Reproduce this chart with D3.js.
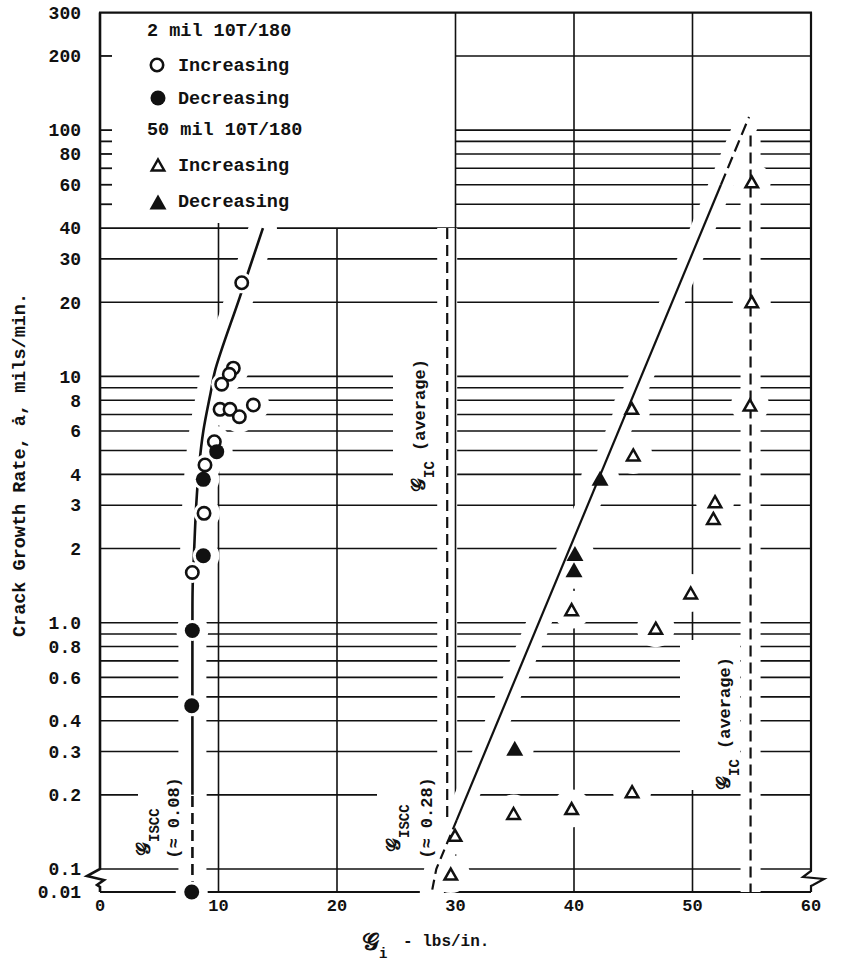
<!DOCTYPE html>
<html>
<head>
<meta charset="utf-8">
<script src="https://cdn.jsdelivr.net/npm/d3@7/dist/d3.min.js"></script>
<style>
  html, body { margin: 0; padding: 0; background: #fff; }
  svg { display: block; }
  text { font-family: "Liberation Mono", "Courier New", monospace; font-weight: bold; fill: #111; }
</style>
</head>
<body>
<svg id="chart" width="853" height="961"></svg>
<script>
// ---------------- data ----------------
const xTickValues = [0, 10, 20, 30, 40, 50, 60];
const yTickValues = [300, 200, 100, 80, 60, 40, 30, 20, 10, 8, 6, 4, 3, 2, 1, 0.8, 0.6, 0.4, 0.3, 0.2, 0.1, 0.01];
const yTickLabels = ["300", "200", "100", "80", "60", "40", "30", "20", "10", "8", "6", "4", "3", "2", "1.0", "0.8", "0.6", "0.4", "0.3", "0.2", "0.1", "0.01"];
// log grid: upper decade only right of x = 30 (legend area kept clear)
const gridUpper = [200, 100, 90, 80, 70, 60, 50];
const gridLower = [40, 30, 20, 10, 9, 8, 7, 6, 5, 4, 3, 2, 1, 0.9, 0.8, 0.7, 0.6, 0.5, 0.4, 0.3, 0.2, 0.1];
// vertical grid: [x, top value]
const gridVertical = [[10, 42], [20, 40], [30, 300], [40, 300], [50, 300]];

// 2 mil 10T/180  [G_i (lbs/in.), crack growth rate (mils/min.)]
const thinIncreasing = [[11.96, 24.0], [11.25, 10.8], [10.91, 10.2], [10.27, 9.3], [10.13, 7.35], [10.97, 7.35],
  [11.76, 6.86], [12.94, 7.65], [9.65, 5.43], [8.86, 4.37], [8.78, 2.78], [7.79, 1.6]];
const thinDecreasing = [[9.85, 4.95], [8.72, 3.82], [8.72, 1.87], [7.79, 0.93], [7.74, 0.46], [7.74, 0.01]];

// 50 mil 10T/180
const thickIncreasing = [[55.0, 61.7], [55.0, 20.1], [44.87, 7.42], [54.85, 7.65], [45.0, 4.8], [51.9, 3.1],
  [51.76, 2.65], [39.8, 1.13], [49.85, 1.32], [46.9, 0.95], [44.9, 0.206], [34.9, 0.168], [39.8, 0.176],
  [29.96, 0.137], [29.6, 0.06]];
const thickDecreasing = [[42.2, 3.86], [40.08, 1.91], [40.0, 1.64], [35.0, 0.309]];

// trend curve through the 2 mil results and its threshold leg
const thinTrend = [[7.8, 0.2], [7.8, 1.0], [7.82, 1.4], [7.95, 2.0], [8.12, 3.0], [8.38, 4.4], [8.72, 6.0],
  [9.34, 8.6], [9.72, 10.6], [11.8, 21], [13.75, 40]];
const thinThreshold = [[7.8, 0.01], [7.8, 0.2]];

// straight-line fit of the 50 mil results, with dashed extrapolations
const thickTrend = [[30.1, 0.158], [52.4, 60]];
const thickTrendUpper = [[52.4, 60], [54.77, 113]];
const thickTrendLower = [[30.1, 0.158], [28.38, 0.1], [28.0, 0.01]];

// average G_IC levels
const gicLines = [{x: 29.3, top: 40, bottom: 0.16}, {x: 54.9, top: 95, bottom: 0.01}];

// ---------------- scales ----------------
const W = 853, H = 961;
const x = d3.scaleLinear().domain([0, 60]).range([100, 811]);
// log axis with a broken segment between 0.1 and 0.01
const y = d3.scaleLog().domain([0.01, 0.1, 300]).range([892, 869, 12.6]);

const svg = d3.select("#chart");
const ink = "#111";

const straight = d3.line().x(d => x(d[0])).y(d => y(d[1]));
const smooth = d3.line().x(d => x(d[0])).y(d => y(d[1])).curve(d3.curveCatmullRom.alpha(0.5));

const triPath = (w, h) => `M0,${-h / 2}L${w / 2},${h / 2}L${-w / 2},${h / 2}Z`;

// areas kept clear of grid lines behind the rotated annotations [x0, y0, x1, y1]
const labelClear = [[138, 775, 186, 862], [377, 775, 440, 862], [393, 340, 440, 495], [680, 640, 740, 790]];

// ---------------- knock-out masks for the grid ----------------
const defs = svg.append("defs");
function makeMask(id, includeGic) {
  const m = defs.append("mask").attr("id", id).attr("maskUnits", "userSpaceOnUse")
    .attr("x", 0).attr("y", 0).attr("width", W).attr("height", H);
  m.append("rect").attr("width", W).attr("height", H).attr("fill", "#fff");
  const k = m.append("g").attr("fill", "none").attr("stroke", "#000")
    .attr("stroke-linecap", "round").attr("stroke-linejoin", "round");
  k.append("path").attr("d", smooth(thinTrend)).attr("stroke-width", 28);
  k.append("path").attr("d", straight(thinThreshold)).attr("stroke-width", 28);
  k.append("path").attr("d", straight(thickTrendLower)).attr("stroke-width", 24);
  k.append("path").attr("d", straight(thickTrend)).attr("stroke-width", 24);
  k.append("path").attr("d", straight(thickTrendUpper)).attr("stroke-width", 24);
  if (includeGic) {
    gicLines.forEach(g => k.append("line")
      .attr("x1", x(g.x)).attr("x2", x(g.x)).attr("y1", y(g.top)).attr("y2", y(g.bottom))
      .attr("stroke-width", 20).attr("stroke-linecap", "butt"));
  }
  const dots = m.append("g").attr("fill", "#000");
  thinIncreasing.concat(thinDecreasing).forEach(d =>
    dots.append("circle").attr("cx", x(d[0])).attr("cy", y(d[1])).attr("r", 16));
  thickIncreasing.concat(thickDecreasing).forEach(d =>
    dots.append("circle").attr("cx", x(d[0])).attr("cy", y(d[1])).attr("r", 19));
  labelClear.forEach(b => dots.append("rect")
    .attr("x", b[0]).attr("y", b[1]).attr("width", b[2] - b[0]).attr("height", b[3] - b[1]));
}
makeMask("hmask", true);
makeMask("vmask", false);

// ---------------- grid ----------------
const hGrid = svg.append("g").attr("mask", "url(#hmask)").attr("stroke", ink).attr("stroke-width", 1.6);
gridUpper.forEach(v => hGrid.append("line")
  .attr("x1", x(30)).attr("x2", x(60)).attr("y1", y(v)).attr("y2", y(v)));
gridLower.forEach(v => hGrid.append("line")
  .attr("x1", x(0)).attr("x2", x(60)).attr("y1", y(v)).attr("y2", y(v)));
// bottom axis (0.01 level)
hGrid.append("line").attr("x1", x(0)).attr("x2", x(60)).attr("y1", y(0.01)).attr("y2", y(0.01))
  .attr("stroke-width", 2.2);

const vGrid = svg.append("g").attr("mask", "url(#vmask)").attr("stroke", ink).attr("stroke-width", 1.6);
gridVertical.forEach(([v, top]) => vGrid.append("line")
  .attr("x1", x(v)).attr("x2", x(v)).attr("y1", y(top)).attr("y2", y(0.01)));

// ---------------- frame with axis breaks ----------------
const frame = svg.append("g").attr("fill", "none").attr("stroke", ink).attr("stroke-linejoin", "miter");
const x0 = x(0), x1 = x(60), yTop = y(300), yB = y(0.1), yBot = y(0.01);
frame.append("path").attr("stroke-width", 2.6)
  .attr("d", `M${x0},${yTop}L${x0},${yB}L${x0 - 13},${yB + 7}L${x0 + 4},${yB + 11}L${x0 - 3},${yB + 16}L${x0},${yB + 18}L${x0},${yBot}`);
frame.append("line").attr("stroke-width", 2.2).attr("x1", x0 - 1).attr("x2", x1 + 1).attr("y1", yTop).attr("y2", yTop);
frame.append("path").attr("stroke-width", 2.2)
  .attr("d", `M${x1},${yTop}L${x1},${yB + 2}L${x1 - 8},${yB + 8}L${x1 + 13},${yB + 10}L${x1 + 2},${yB + 16}L${x1},${yB + 17}L${x1},${yBot}`);
// short ticks in the legend zone
gridUpper.forEach(v => frame.append("line").attr("stroke-width", 1.8)
  .attr("x1", x0).attr("x2", x0 + 12).attr("y1", y(v)).attr("y2", y(v)));

// ---------------- trend lines ----------------
const lines = svg.append("g").attr("fill", "none").attr("stroke", ink);
lines.append("path").attr("d", smooth(thinTrend)).attr("stroke-width", 2.6);
lines.append("path").attr("d", straight(thinThreshold)).attr("stroke-width", 2.6).attr("stroke-dasharray", "11,6");
lines.append("path").attr("d", straight(thickTrend)).attr("stroke-width", 2.2);
lines.append("path").attr("d", straight(thickTrendUpper)).attr("stroke-width", 2.2).attr("stroke-dasharray", "12,6");
lines.append("path").attr("d", straight(thickTrendLower)).attr("stroke-width", 2.2).attr("stroke-dasharray", "10,6");
gicLines.forEach(g => lines.append("line")
  .attr("x1", x(g.x)).attr("x2", x(g.x)).attr("y1", y(g.top)).attr("y2", y(g.bottom))
  .attr("stroke-width", 2.2).attr("stroke-dasharray", "11,6"));

// ---------------- points ----------------
const pts = svg.append("g");
// white collars so the trend curve breaks around the circles
thinIncreasing.concat(thinDecreasing).forEach(d =>
  pts.append("circle").attr("cx", x(d[0])).attr("cy", y(d[1])).attr("r", 10.5).attr("fill", "#fff"));
thinIncreasing.forEach(d => pts.append("circle").attr("cx", x(d[0])).attr("cy", y(d[1])).attr("r", 6.2)
  .attr("fill", "#fff").attr("stroke", ink).attr("stroke-width", 2.6));
thinDecreasing.forEach(d => pts.append("circle").attr("cx", x(d[0])).attr("cy", y(d[1])).attr("r", 7.5)
  .attr("fill", ink));
thickIncreasing.forEach(d => pts.append("path").attr("d", triPath(12.5, 11))
  .attr("transform", `translate(${x(d[0])},${y(d[1])})`)
  .attr("fill", "#fff").attr("stroke", ink).attr("stroke-width", 2.5).attr("stroke-linejoin", "miter"));
thickDecreasing.forEach(d => pts.append("path").attr("d", triPath(17, 15))
  .attr("transform", `translate(${x(d[0])},${y(d[1])})`).attr("fill", ink));

// ---------------- legend ----------------
const lg = svg.append("g");
const legendText = (tx, ty, s) => lg.append("text").attr("x", tx).attr("y", ty).attr("font-size", 18.5).text(s);
legendText(147, 36, "2 mil 10T/180");
lg.append("circle").attr("cx", 157).attr("cy", 65).attr("r", 6.2).attr("fill", "#fff").attr("stroke", ink).attr("stroke-width", 2.6);
legendText(178, 71, "Increasing");
lg.append("circle").attr("cx", 158).attr("cy", 98).attr("r", 7.5).attr("fill", ink);
legendText(178, 104, "Decreasing");
legendText(147, 135, "50 mil 10T/180");
lg.append("path").attr("d", triPath(12.5, 11)).attr("transform", "translate(158,165)")
  .attr("fill", "#fff").attr("stroke", ink).attr("stroke-width", 2.5);
legendText(178, 171, "Increasing");
lg.append("path").attr("d", triPath(17, 15)).attr("transform", "translate(158,202)").attr("fill", ink);
legendText(178, 207, "Decreasing");

// ---------------- axis labels ----------------
const ax = svg.append("g");
yTickValues.forEach((v, i) => ax.append("text").attr("x", 81).attr("y", y(v)).attr("dy", "0.35em")
  .attr("text-anchor", "end").attr("font-size", 18).text(yTickLabels[i]));
xTickValues.forEach(v => ax.append("text").attr("x", x(v)).attr("y", 911)
  .attr("text-anchor", "middle").attr("font-size", 17).text(v));

ax.append("text").attr("transform", "translate(25,465) rotate(-90)").attr("text-anchor", "middle")
  .attr("font-size", 18.5).text("Crack Growth Rate, ȧ, mils/min.");

const xt = ax.append("text").attr("x", 362).attr("y", 950);
xt.append("tspan").attr("font-size", 24).text("𝒢");
xt.append("tspan").attr("font-size", 14).attr("dy", 8).text("i");
xt.append("tspan").attr("x", 403).attr("dy", -12).attr("font-size", 16).text("- lbs/in.");

// ---------------- rotated annotations ----------------
function gLabel(px, py, sub, tail) {
  const t = svg.append("text").attr("transform", `translate(${px},${py}) rotate(-90)`);
  t.append("tspan").attr("font-size", 19).text("𝒢");
  t.append("tspan").attr("font-size", 14).attr("dy", 9).text(sub);
  if (tail) t.append("tspan").attr("font-size", 17).attr("dy", -9).text(tail);
  return t;
}
function noteLabel(px, py, s) {
  svg.append("text").attr("transform", `translate(${px},${py}) rotate(-90)`).attr("text-anchor", "middle")
    .attr("font-size", 17).text(s);
}
gLabel(150, 856, "ISCC");
noteLabel(179, 818, "(≈ 0.08)");
gLabel(400, 852, "ISCC");
noteLabel(432, 818, "(≈ 0.28)");
gLabel(425, 492, "IC", " (average)");
gLabel(730, 790, "IC", " (average)");
</script>
</body>
</html>
